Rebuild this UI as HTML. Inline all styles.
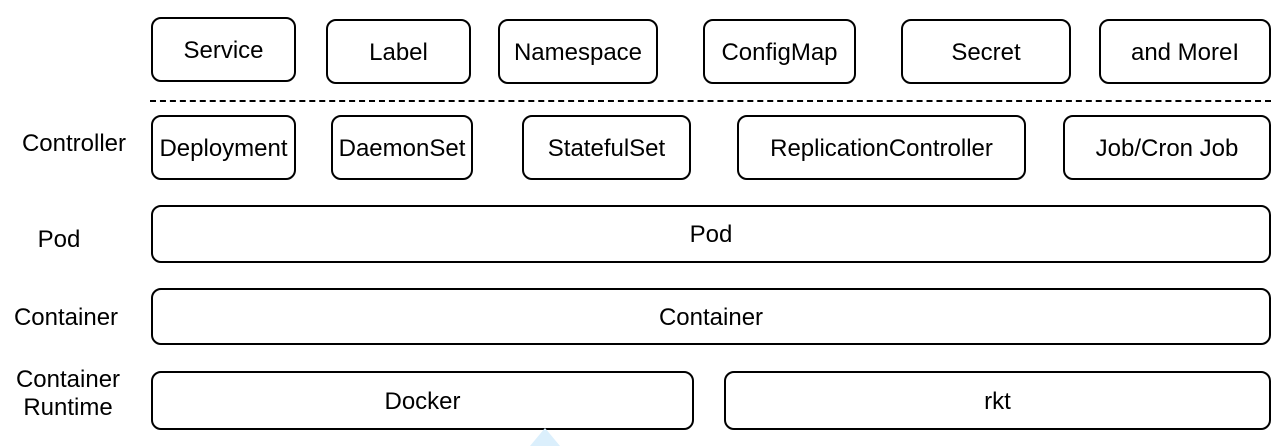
<!DOCTYPE html>
<html><head><style>
body{margin:0;width:1288px;height:446px;background:#fff;position:relative;overflow:hidden;font-family:"Liberation Sans",Arial,sans-serif;}
.b{position:absolute;box-sizing:border-box;border:2px solid #000;border-radius:10px;display:flex;align-items:center;justify-content:center;font-size:24px;color:#000;padding-top:2px;}
.l{position:absolute;font-size:24px;color:#000;text-align:center;line-height:28px;}
</style></head><body>
<div class="b" style="left:151px;top:17px;width:145px;height:65px">Service</div>
<div class="b" style="left:326px;top:19px;width:145px;height:65px">Label</div>
<div class="b" style="left:498px;top:19px;width:160px;height:65px">Namespace</div>
<div class="b" style="left:703px;top:19px;width:153px;height:65px">ConfigMap</div>
<div class="b" style="left:901px;top:19px;width:170px;height:65px">Secret</div>
<div class="b" style="left:1099px;top:19px;width:172px;height:65px">and MoreI</div>
<div style="position:absolute;left:150px;top:100px;width:1121px;border-top:2px dashed #000"></div>
<div class="b" style="left:151px;top:115px;width:145px;height:65px">Deployment</div>
<div class="b" style="left:331px;top:115px;width:142px;height:65px">DaemonSet</div>
<div class="b" style="left:522px;top:115px;width:169px;height:65px">StatefulSet</div>
<div class="b" style="left:737px;top:115px;width:289px;height:65px">ReplicationController</div>
<div class="b" style="left:1063px;top:115px;width:208px;height:65px">Job/Cron Job</div>
<div class="b" style="left:151px;top:205px;width:1120px;height:58px">Pod</div>
<div class="b" style="left:151px;top:288px;width:1120px;height:57px">Container</div>
<div class="b" style="left:151px;top:371px;width:543px;height:59px">Docker</div>
<div class="b" style="left:724px;top:371px;width:547px;height:59px">rkt</div>
<div class="l" style="left:10px;top:130px;width:128px">Controller</div>
<div class="l" style="left:10px;top:226px;width:98px">Pod</div>
<div class="l" style="left:4px;top:304px;width:124px">Container</div>
<div class="l" style="left:4px;top:366px;width:128px">Container<br>Runtime</div>
<svg style="position:absolute;left:0;top:0" width="1288" height="446"><polygon points="545,428 530,446 560,446" fill="#dbeffc"/></svg>
</body></html>
